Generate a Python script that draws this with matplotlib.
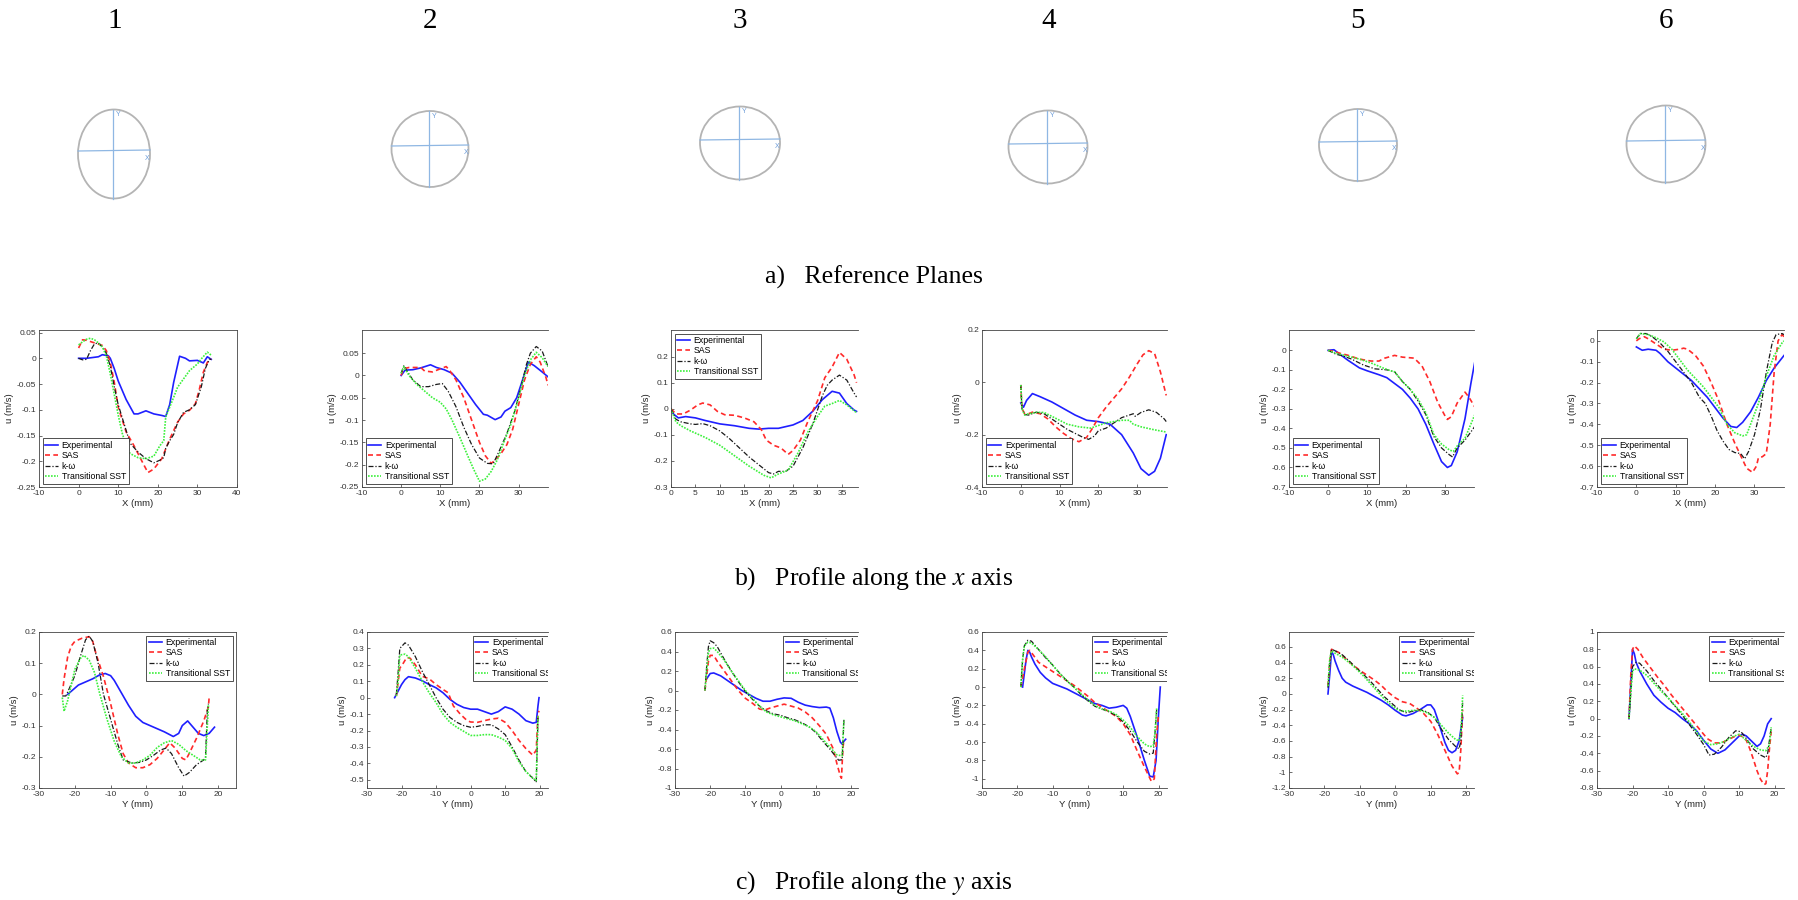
import matplotlib
matplotlib.use('Agg')
import matplotlib.pyplot as plt
from matplotlib.patches import Ellipse

plt.rcParams['axes.unicode_minus'] = False
plt.rcParams['mathtext.fontset'] = 'stix'
plt.rcParams['font.family'] = ['Liberation Sans', 'DejaVu Sans']

# ---------------- data: profiles along x (row b) ----------------
b1_exp_x = [0, 2, 5, 6, 7.5, 8, 9, 10, 12, 14, 15, 17, 19, 21, 22, 23, 24, 25.5, 27, 28, 30, 31.5, 32.5, 33.5]
b1_exp_u = [0, 0, 0.003, 0.007, 0.005, 0, -0.02, -0.044, -0.08, -0.108, -0.108, -0.102, -0.108, -0.111, -0.113, -0.09, -0.047, 0.004, 0, -0.005, -0.004, -0.009, 0.003, -0.002]
b1_sas_x = [0, 1, 2, 4, 6, 7, 8, 9, 10, 12, 14, 16, 17.5, 19, 21, 22, 23, 25, 26.5, 28, 29.5, 30.5, 31.5, 32.5, 33.5]
b1_sas_u = [0.02, 0.036, 0.035, 0.03, 0.025, 0.015, -0.008, -0.046, -0.095, -0.143, -0.17, -0.2, -0.222, -0.215, -0.195, -0.176, -0.157, -0.124, -0.108, -0.101, -0.088, -0.06, -0.027, -0.008, -0.001]
b1_kw_x = [0, 1, 2, 3, 4, 5, 6, 7, 8, 9, 10, 12, 13, 15, 17, 19, 20.5, 21.5, 22, 23, 24, 25, 26.5, 28, 29.5, 31, 32, 33, 33.5]
b1_kw_u = [0, -0.003, -0.002, 0.015, 0.028, 0.03, 0.022, 0.01, -0.015, -0.055, -0.09, -0.14, -0.165, -0.182, -0.195, -0.203, -0.198, -0.193, -0.175, -0.16, -0.148, -0.125, -0.105, -0.1, -0.09, -0.055, -0.02, -0.002, -0.002]
b1_sst_x = [0, 1, 2, 3, 4, 5, 6, 7, 8, 9, 10, 11, 12, 13, 15, 17, 19, 20.5, 21.5, 22, 23, 24, 25, 26.5, 28, 30, 31, 32.5, 33.5]
b1_sst_u = [0.026, 0.032, 0.037, 0.039, 0.036, 0.03, 0.022, 0.005, -0.03, -0.07, -0.11, -0.145, -0.17, -0.185, -0.193, -0.195, -0.19, -0.17, -0.16, -0.114, -0.095, -0.076, -0.056, -0.04, -0.024, -0.011, -0.001, 0.012, 0.006]

b2_exp_x = [0, 1, 3, 5, 7.5, 9, 11, 13, 15, 17, 19, 21, 22, 24, 25.5, 26.5, 28, 29.5, 31, 32.5, 34, 36, 37.5]
b2_exp_u = [0, 0.012, 0.013, 0.017, 0.024, 0.018, 0.013, 0.005, -0.015, -0.04, -0.065, -0.087, -0.089, -0.099, -0.093, -0.08, -0.072, -0.05, -0.01, 0.03, 0.022, 0.008, -0.003]
b2_sas_x = [0, 0.5, 2, 5, 6, 8, 10, 11.5, 12.5, 14, 16, 18, 20, 21.5, 23, 24, 25.5, 27, 28.5, 30, 31.5, 33, 34.5, 35.5, 37, 37.5]
b2_sas_u = [0, 0.015, 0.018, 0.018, 0.01, 0.008, 0.015, 0.02, 0.01, -0.01, -0.05, -0.1, -0.15, -0.18, -0.197, -0.19, -0.175, -0.155, -0.12, -0.065, -0.01, 0.025, 0.042, 0.03, -0.005, -0.022]
b2_kw_x = [0, 0.7, 1.5, 3, 5, 7, 9, 10.5, 12, 14, 16, 18, 20, 22, 23.5, 25, 27, 29, 30.5, 32, 33, 34.5, 36, 37.5]
b2_kw_u = [0.005, 0.022, 0.01, -0.01, -0.025, -0.025, -0.02, -0.018, -0.035, -0.07, -0.116, -0.155, -0.185, -0.197, -0.198, -0.17, -0.13, -0.08, -0.03, 0.025, 0.05, 0.065, 0.055, 0.02]
b2_sst_x = [0, 0.7, 2, 4, 6, 8, 10, 11.5, 13, 15, 17, 18.5, 20, 21.5, 23, 24.5, 26, 28, 30, 31.5, 33, 34.5, 36, 37.5]
b2_sst_u = [0.005, 0.02, 0, -0.02, -0.035, -0.05, -0.06, -0.075, -0.1, -0.139, -0.18, -0.21, -0.237, -0.232, -0.215, -0.19, -0.155, -0.11, -0.05, 0, 0.035, 0.052, 0.04, 0.02]

b3_exp_x = [0, 0.5, 1.5, 3, 5, 7, 10, 13, 16, 18, 20, 22, 25, 27, 29, 31, 33, 34.5, 36, 37.5, 38]
b3_exp_u = [0, -0.02, -0.035, -0.03, -0.035, -0.045, -0.058, -0.065, -0.075, -0.078, -0.075, -0.075, -0.062, -0.045, -0.01, 0.035, 0.067, 0.06, 0.02, -0.005, -0.01]
b3_sas_x = [0, 1, 2.5, 4, 5.5, 6.5, 8, 9.5, 11, 13, 15, 17, 18.5, 19.5, 21, 22.5, 24, 25, 26.5, 28, 30, 31.5, 33, 34.5, 36, 37.5, 38]
b3_sas_u = [0, -0.02, -0.02, -0.005, 0.015, 0.022, 0.015, -0.01, -0.023, -0.025, -0.035, -0.05, -0.08, -0.12, -0.14, -0.15, -0.175, -0.16, -0.12, -0.05, 0.03, 0.119, 0.16, 0.216, 0.19, 0.13, 0.1]
b3_kw_x = [0, 1, 2, 4, 5, 6.5, 8, 10, 12, 14, 16, 18, 20, 21, 22, 23.5, 25, 27, 29, 31, 32, 33, 34.5, 36, 37.5, 38]
b3_kw_u = [0, -0.04, -0.05, -0.058, -0.06, -0.057, -0.065, -0.085, -0.115, -0.15, -0.185, -0.215, -0.245, -0.25, -0.24, -0.24, -0.22, -0.15, -0.06, 0.05, 0.09, 0.11, 0.129, 0.11, 0.06, 0.045]
b3_sst_x = [0, 1, 2, 4, 7, 10, 13, 16, 19, 20.5, 22, 24, 26, 28, 30, 31.5, 33, 34.5, 36, 38]
b3_sst_u = [0, -0.05, -0.065, -0.085, -0.11, -0.14, -0.18, -0.22, -0.255, -0.265, -0.25, -0.235, -0.17, -0.09, -0.03, 0.01, 0.02, 0.032, 0.015, -0.015]

b4_exp_x = [0, 0.7, 1.5, 3, 5, 8, 11, 14, 17, 20, 23, 26, 29, 31, 33, 34.5, 36, 37.5]
b4_exp_u = [-0.079, -0.095, -0.069, -0.043, -0.055, -0.075, -0.1, -0.125, -0.145, -0.15, -0.16, -0.2, -0.27, -0.33, -0.355, -0.34, -0.29, -0.2]
b4_sas_x = [0, 0.3, 1, 2, 3, 5, 7, 9, 11, 13, 15, 17, 18.5, 20, 22, 24, 26, 28, 30, 31.5, 33, 34.5, 36, 37.5]
b4_sas_u = [-0.01, -0.1, -0.12, -0.12, -0.114, -0.12, -0.14, -0.17, -0.195, -0.215, -0.227, -0.21, -0.175, -0.135, -0.095, -0.06, -0.025, 0.02, 0.07, 0.105, 0.121, 0.11, 0.04, -0.05]
b4_kw_x = [0, 0.3, 1, 2, 4, 6, 8, 10, 12, 14, 16, 17.5, 19, 20, 22, 24, 26, 28, 29, 29.5, 31, 33, 35, 37, 37.5]
b4_kw_u = [-0.01, -0.1, -0.123, -0.125, -0.114, -0.12, -0.14, -0.16, -0.18, -0.195, -0.21, -0.218, -0.205, -0.185, -0.175, -0.155, -0.135, -0.125, -0.12, -0.13, -0.115, -0.105, -0.115, -0.14, -0.15]
b4_sst_x = [0, 0.3, 1, 2, 4, 6, 8, 10, 12, 15, 18, 20, 22, 24, 26, 28, 29, 31, 34, 37.5]
b4_sst_u = [-0.01, -0.1, -0.125, -0.12, -0.115, -0.115, -0.13, -0.145, -0.16, -0.17, -0.175, -0.165, -0.155, -0.15, -0.145, -0.145, -0.16, -0.17, -0.18, -0.19]

b5_exp_x = [0, 1.5, 3, 5, 8, 10, 13, 15, 17, 19, 21, 23, 25, 27, 29, 30.5, 31.5, 33, 35, 36.5, 37.5]
b5_exp_u = [0, 0.003, -0.02, -0.05, -0.09, -0.105, -0.125, -0.14, -0.17, -0.2, -0.245, -0.3, -0.38, -0.478, -0.57, -0.6, -0.59, -0.52, -0.35, -0.17, -0.06]
b5_sas_x = [0, 1.5, 3, 5, 8, 11, 13, 14.5, 17, 19, 22, 24, 26, 28, 30, 30.5, 31.5, 33, 35, 36, 37.5]
b5_sas_u = [0, -0.005, -0.015, -0.025, -0.045, -0.055, -0.055, -0.04, -0.026, -0.035, -0.04, -0.08, -0.16, -0.265, -0.34, -0.354, -0.34, -0.27, -0.214, -0.24, -0.29]
b5_kw_x = [0, 2, 4, 6, 9, 12, 15, 17, 19, 21, 23, 25, 27, 29, 31, 31.8, 33, 35, 37.5]
b5_kw_u = [0, -0.02, -0.03, -0.045, -0.075, -0.095, -0.1, -0.11, -0.16, -0.2, -0.26, -0.33, -0.44, -0.5, -0.535, -0.546, -0.5, -0.46, -0.39]
b5_sst_x = [0, 2, 5, 8, 11, 14, 16, 17, 19, 21, 23, 25, 27, 29, 31, 32, 33, 35, 37.5]
b5_sst_u = [0, -0.015, -0.03, -0.045, -0.065, -0.09, -0.105, -0.11, -0.16, -0.2, -0.25, -0.32, -0.43, -0.48, -0.51, -0.518, -0.49, -0.45, -0.33]

b6_exp_x = [0, 1, 1.5, 3, 5, 6, 8, 10, 12, 14, 16, 18, 20, 22, 24, 25.5, 27, 29, 31, 33, 35, 37.5]
b6_exp_u = [-0.029, -0.04, -0.045, -0.04, -0.045, -0.06, -0.1, -0.13, -0.16, -0.19, -0.23, -0.27, -0.32, -0.37, -0.41, -0.415, -0.39, -0.34, -0.27, -0.19, -0.13, -0.07]
b6_sas_x = [0, 0.7, 2, 3, 5, 7, 9, 11, 12, 13, 15, 17, 19, 21, 23, 25, 27, 28, 29.5, 30.5, 31, 32, 33, 34, 35, 36, 37, 37.5]
b6_sas_u = [0, 0.01, 0.02, 0.01, -0.015, -0.04, -0.045, -0.04, -0.035, -0.04, -0.07, -0.12, -0.2, -0.29, -0.4, -0.49, -0.57, -0.61, -0.63, -0.6, -0.56, -0.555, -0.54, -0.4, -0.15, 0, 0.03, 0.02]
b6_kw_x = [0, 1, 2.5, 4, 6, 8, 10, 12, 14, 16, 17.5, 19, 20.5, 22, 23.5, 25, 26.5, 27.5, 28.5, 30, 31.5, 33, 34.5, 35.5, 37, 37.5]
b6_kw_u = [0.01, 0.035, 0.035, 0.02, -0.01, -0.05, -0.1, -0.15, -0.2, -0.27, -0.3, -0.36, -0.43, -0.48, -0.52, -0.535, -0.54, -0.565, -0.53, -0.45, -0.33, -0.15, -0.01, 0.03, 0.035, 0.03]
b6_sst_x = [0, 1, 3, 5, 7, 9, 11, 13, 15, 17, 19, 21, 23, 25, 27, 28, 29, 31, 33, 35, 37, 37.5]
b6_sst_u = [0.01, 0.035, 0.03, 0.015, -0.005, -0.04, -0.09, -0.14, -0.18, -0.22, -0.27, -0.32, -0.4, -0.44, -0.455, -0.45, -0.4, -0.3, -0.17, -0.07, -0.01, 0]

# ---------------- data: profiles along y (row c) ----------------
c1_exp_x = [-22, -21, -19, -17, -15, -13, -11.5, -10, -9, -7, -5, -3, -1, 1, 3, 5, 7.5, 9, 10, 11.5, 13, 14.5, 16, 17.5, 19]
c1_exp_u = [0, 0.01, 0.03, 0.04, 0.05, 0.063, 0.067, 0.06, 0.045, 0.005, -0.035, -0.07, -0.09, -0.1, -0.11, -0.12, -0.135, -0.125, -0.1, -0.085, -0.105, -0.125, -0.132, -0.125, -0.105]
c1_sas_x = [-23.5, -23, -22, -21, -20, -18, -16, -15, -14, -12, -10, -8, -6.5, -5, -3, -1, 1, 3, 5, 6.5, 8, 10, 11, 12, 14, 16, 17.3, 17.5]
c1_sas_u = [0, 0.05, 0.12, 0.155, 0.17, 0.18, 0.185, 0.17, 0.127, 0.057, -0.03, -0.128, -0.19, -0.22, -0.235, -0.235, -0.225, -0.205, -0.177, -0.155, -0.172, -0.205, -0.21, -0.188, -0.14, -0.085, -0.04, -0.01]
c1_kw_x = [-23.5, -22.5, -21.5, -20, -18.5, -17, -16, -15, -13.5, -12, -10, -8, -6.5, -4, -2, 0, 2, 4, 5.5, 7, 9, 10.5, 12, 14, 16, 16.5, 17, 17.3]
c1_kw_u = [-0.005, -0.005, 0.02, 0.06, 0.12, 0.175, 0.187, 0.17, 0.1, 0, -0.08, -0.16, -0.21, -0.22, -0.218, -0.21, -0.195, -0.178, -0.172, -0.19, -0.235, -0.262, -0.25, -0.225, -0.21, -0.2, -0.05, -0.03]
c1_sst_x = [-23.5, -23, -22, -21, -20, -18.5, -17.5, -16, -14.5, -13, -11, -9, -7, -5, -3, -1, 1, 3, 5, 7, 9, 11, 13, 15, 16.5, 17, 17.3]
c1_sst_u = [-0.01, -0.054, -0.02, 0.03, 0.08, 0.115, 0.125, 0.11, 0.07, 0, -0.08, -0.15, -0.2, -0.22, -0.22, -0.21, -0.195, -0.17, -0.155, -0.148, -0.16, -0.18, -0.195, -0.21, -0.21, -0.1, -0.035]

c2_exp_x = [-22, -21, -20, -19, -18, -16, -14, -12, -10, -8, -6, -4, -2, 0, 2, 4, 6, 8, 10, 12, 14, 16, 18, 19, 19.5, 19.8]
c2_exp_u = [0, 0.04, 0.08, 0.11, 0.128, 0.12, 0.103, 0.08, 0.06, 0.03, -0.01, -0.04, -0.06, -0.07, -0.07, -0.085, -0.1, -0.085, -0.056, -0.07, -0.1, -0.14, -0.155, -0.15, -0.05, 0]
c2_sas_x = [-21.5, -20.5, -19.5, -18.5, -17.5, -16, -14, -12, -10, -8, -6.5, -5, -3, -1, 0, 2, 4, 6, 8, 10, 12, 14, 16, 18, 19, 19.5, 19.8]
c2_sas_u = [0.01, 0.18, 0.21, 0.245, 0.24, 0.2, 0.13, 0.115, 0.08, 0.05, 0.03, -0.05, -0.1, -0.14, -0.148, -0.15, -0.14, -0.13, -0.125, -0.15, -0.2, -0.26, -0.31, -0.35, -0.32, -0.1, -0.08]
c2_kw_x = [-21.5, -21, -20.5, -19, -18, -16, -14, -12, -10, -8, -6, -4, -2, 0, 2, 4, 6, 8, 10, 12, 14, 16, 18, 19, 19.5]
c2_kw_u = [0.02, 0.15, 0.3, 0.334, 0.32, 0.25, 0.16, 0.08, 0, -0.07, -0.12, -0.15, -0.17, -0.18, -0.175, -0.165, -0.165, -0.19, -0.225, -0.3, -0.38, -0.45, -0.49, -0.515, -0.12]
c2_sst_x = [-21.5, -21, -20.5, -19, -18, -16, -14, -12, -10, -8, -6, -4, -2, 0, 2, 4, 6, 8, 10, 12, 14, 16, 18, 19, 19.5]
c2_sst_u = [0.01, 0.1, 0.26, 0.265, 0.25, 0.18, 0.1, 0.03, -0.03, -0.1, -0.15, -0.18, -0.205, -0.23, -0.23, -0.225, -0.225, -0.24, -0.26, -0.31, -0.39, -0.45, -0.49, -0.505, -0.11]

c3_exp_x = [-21, -20, -19, -17, -15, -13, -11, -9, -7, -5, -3, -1, 1, 3, 5, 7, 9, 11, 13, 14, 15, 16, 17, 17.5, 18, 18.5]
c3_exp_u = [0.12, 0.174, 0.18, 0.15, 0.1, 0.05, 0, -0.04, -0.08, -0.11, -0.11, -0.09, -0.076, -0.08, -0.12, -0.15, -0.165, -0.175, -0.17, -0.18, -0.28, -0.42, -0.53, -0.55, -0.52, -0.5]
c3_sas_x = [-21.5, -21, -20.5, -20, -19, -18, -16, -14, -12, -10, -8, -6, -4.5, -3, -1, 1, 3, 5, 7, 9, 11, 13, 15, 16, 17, 17.3, 17.7, 18]
c3_sas_u = [0, 0.15, 0.3, 0.36, 0.36, 0.3, 0.2, 0.1, 0, -0.08, -0.13, -0.19, -0.2, -0.18, -0.16, -0.14, -0.16, -0.18, -0.22, -0.28, -0.36, -0.45, -0.6, -0.75, -0.88, -0.9, -0.6, -0.5]
c3_kw_x = [-21.5, -21, -20.5, -20, -19, -18, -16, -14, -12, -10, -8, -6, -4, -2, 0, 2, 4, 6, 8, 10, 12, 14, 15.5, 16.5, 17.5, 18]
c3_kw_u = [0, 0.25, 0.45, 0.51, 0.49, 0.45, 0.32, 0.2, 0.09, -0.01, -0.09, -0.16, -0.21, -0.24, -0.254, -0.28, -0.3, -0.33, -0.37, -0.43, -0.52, -0.6, -0.67, -0.715, -0.71, -0.3]
c3_sst_x = [-21.5, -21, -20.5, -20, -19, -18, -16, -14, -12, -10, -8, -6, -4, -2, 0, 2, 4, 6, 8, 10, 12, 14, 16, 17.5, 18]
c3_sst_u = [0, 0.2, 0.39, 0.43, 0.435, 0.4, 0.31, 0.2, 0.1, 0, -0.08, -0.16, -0.22, -0.25, -0.27, -0.29, -0.31, -0.34, -0.37, -0.42, -0.5, -0.58, -0.66, -0.67, -0.3]

c4_exp_x = [-18.5, -18, -17.5, -17, -16.5, -16, -15, -13.5, -12, -10, -8, -6, -4, -2, 0, 2, 4, 6, 8, 10, 11, 12, 14, 16, 17.5, 18.5, 19.3, 20, 20.5]
c4_exp_u = [0, 0.15, 0.3, 0.4, 0.38, 0.33, 0.25, 0.16, 0.1, 0.04, 0.01, -0.02, -0.06, -0.1, -0.14, -0.18, -0.2, -0.23, -0.22, -0.2, -0.23, -0.32, -0.55, -0.8, -0.97, -0.98, -0.8, -0.3, 0]
c4_sas_x = [-19, -18, -17, -16.5, -15.5, -14, -12, -10, -8, -6, -4, -2, 0, 2, 4, 6, 8, 10, 12, 14, 16, 18, 18.8, 19.5, 20]
c4_sas_u = [0, 0.2, 0.38, 0.4, 0.35, 0.27, 0.22, 0.17, 0.12, 0.07, 0.02, -0.04, -0.1, -0.17, -0.22, -0.27, -0.32, -0.4, -0.52, -0.7, -0.87, -1.03, -1.0, -0.5, -0.3]
c4_kw_x = [-19, -18.5, -18, -17, -16, -14, -12, -10, -8, -6, -4, -2, 0, 2, 4, 6, 8, 10, 12, 14, 16, 17.5, 18.5, 19, 19.5]
c4_kw_u = [0, 0.3, 0.45, 0.51, 0.5, 0.41, 0.32, 0.24, 0.15, 0.07, 0, -0.08, -0.15, -0.21, -0.24, -0.27, -0.31, -0.38, -0.48, -0.6, -0.7, -0.73, -0.72, -0.5, -0.23]
c4_sst_x = [-19, -18.5, -18, -17, -16, -14, -12, -10, -8, -6, -4, -2, 0, 2, 4, 6, 8, 10, 12, 14, 16, 17.5, 18.5, 19, 19.5]
c4_sst_u = [0, 0.3, 0.45, 0.49, 0.48, 0.41, 0.33, 0.24, 0.15, 0.07, 0, -0.07, -0.14, -0.2, -0.24, -0.26, -0.3, -0.36, -0.44, -0.54, -0.62, -0.65, -0.64, -0.5, -0.22]

c5_exp_x = [-19, -18.5, -18, -17.5, -17, -16, -15, -14, -12, -10, -8, -6, -4, -2, 0, 2, 3, 5, 7, 9, 10, 11, 12, 13, 14, 15, 16, 17, 18, 18.5, 19]
c5_exp_u = [0, 0.25, 0.547, 0.5, 0.42, 0.3, 0.2, 0.15, 0.1, 0.06, 0.02, -0.03, -0.08, -0.14, -0.21, -0.27, -0.28, -0.25, -0.2, -0.14, -0.14, -0.2, -0.33, -0.48, -0.62, -0.72, -0.75, -0.72, -0.6, -0.45, -0.3]
c5_sas_x = [-19, -18.5, -18, -17, -16, -14, -12, -10, -8, -6, -4, -2, 0, 2, 4, 6, 8, 10, 12, 14, 16, 17.5, 18, 18.5, 19]
c5_sas_u = [0.1, 0.4, 0.57, 0.55, 0.53, 0.45, 0.37, 0.3, 0.24, 0.18, 0.11, 0.02, -0.05, -0.1, -0.12, -0.18, -0.25, -0.35, -0.52, -0.72, -0.92, -1.02, -1.0, -0.7, -0.2]
c5_kw_x = [-19, -18.5, -18, -17, -15, -13, -11, -9, -7, -5, -3, -1, 1, 3, 5, 7, 9, 11, 13, 15, 17, 18, 18.5, 19]
c5_kw_u = [0.08, 0.4, 0.57, 0.55, 0.5, 0.42, 0.33, 0.25, 0.16, 0.06, -0.04, -0.12, -0.2, -0.24, -0.22, -0.2, -0.23, -0.3, -0.45, -0.58, -0.67, -0.7, -0.6, -0.1]
c5_sst_x = [-19, -18.5, -18, -17, -15, -13, -11, -9, -7, -5, -3, -1, 1, 3, 5, 7, 9, 11, 13, 15, 17, 18, 18.5, 19]
c5_sst_u = [0.1, 0.45, 0.55, 0.52, 0.47, 0.4, 0.32, 0.23, 0.13, 0.03, -0.07, -0.15, -0.21, -0.22, -0.21, -0.21, -0.24, -0.3, -0.4, -0.5, -0.58, -0.6, -0.5, -0.02]

c6_exp_x = [-21, -20.5, -20, -19.5, -19, -18, -16, -14, -12, -10, -8, -6, -4, -2, 0, 2, 4, 6, 8, 10, 11, 12, 14, 15, 16, 17, 18, 19]
c6_exp_u = [0, 0.4, 0.8, 0.75, 0.65, 0.55, 0.4, 0.27, 0.19, 0.12, 0.07, 0, -0.06, -0.14, -0.25, -0.35, -0.4, -0.36, -0.28, -0.2, -0.18, -0.2, -0.28, -0.32, -0.29, -0.2, -0.06, 0]
c6_sas_x = [-21, -20.5, -20, -19.5, -18.5, -17, -15, -13, -11, -9, -7, -5, -3, -1, 1, 3, 5, 7, 9, 10, 11, 12, 13, 14, 15, 16, 17, 17.5, 18, 18.5, 19]
c6_sas_u = [0, 0.5, 0.8, 0.84, 0.8, 0.7, 0.59, 0.48, 0.38, 0.27, 0.17, 0.07, -0.03, -0.13, -0.23, -0.28, -0.28, -0.24, -0.2, -0.19, -0.21, -0.25, -0.35, -0.47, -0.6, -0.7, -0.76, -0.75, -0.6, -0.35, -0.15]
c6_kw_x = [-21, -20.5, -20, -19, -18, -16, -14, -12, -10, -8, -6, -4, -2, 0, 1.5, 3, 5, 7, 9, 10.5, 12, 14, 16, 17.5, 18, 18.5, 19]
c6_kw_u = [0, 0.3, 0.6, 0.65, 0.64, 0.55, 0.44, 0.34, 0.24, 0.14, 0.04, -0.07, -0.18, -0.3, -0.42, -0.41, -0.33, -0.22, -0.14, -0.15, -0.23, -0.35, -0.42, -0.45, -0.4, -0.25, -0.1]
c6_sst_x = [-21, -20.5, -20, -19.5, -18, -16, -14, -12, -10, -8, -6, -4, -2, 0, 2, 4, 6, 8, 10, 12, 14, 16, 17.5, 18.5, 19]
c6_sst_u = [0, 0.3, 0.55, 0.575, 0.56, 0.5, 0.41, 0.32, 0.24, 0.15, 0.06, -0.04, -0.15, -0.26, -0.3, -0.29, -0.26, -0.21, -0.18, -0.25, -0.32, -0.36, -0.37, -0.3, -0.1]

series_labels = ['Experimental', 'SAS', 'k-\u03c9', 'Transitional SST']
plane_labels = ['1', '2', '3', '4', '5', '6']
captions = ['a)   Reference Planes', 'b)   Profile along the $x$ axis', 'c)   Profile along the $y$ axis']

# axis limits / ticks per panel
b_xlim = [(-10, 40), (-10, 37.5), (0, 38.3), (-10, 37.7), (-10, 37.3), (-10, 37.5)]
b_ylim = [(-0.25, 0.055), (-0.25, 0.102), (-0.3, 0.302), (-0.4, 0.2), (-0.7, 0.104), (-0.7, 0.052)]
b_xticks = [[-10, 0, 10, 20, 30, 40], [-10, 0, 10, 20, 30], [0, 5, 10, 15, 20, 25, 30, 35],
            [-10, 0, 10, 20, 30], [-10, 0, 10, 20, 30], [-10, 0, 10, 20, 30]]
b_yticks = [[-0.25, -0.2, -0.15, -0.1, -0.05, 0, 0.05], [-0.25, -0.2, -0.15, -0.1, -0.05, 0, 0.05],
            [-0.3, -0.2, -0.1, 0, 0.1, 0.2], [-0.4, -0.2, 0, 0.2],
            [-0.7, -0.6, -0.5, -0.4, -0.3, -0.2, -0.1, 0], [-0.7, -0.6, -0.5, -0.4, -0.3, -0.2, -0.1, 0]]
c_xlim = [(-30, 25), (-30, 22.4), (-30, 22), (-30, 22.4), (-30, 22.2), (-30, 22.6)]
c_ylim = [(-0.3, 0.2), (-0.55, 0.4), (-1, 0.6), (-1.1, 0.6), (-1.2, 0.79), (-0.8, 1)]
c_xticks = [[-30, -20, -10, 0, 10, 20]] * 6
c_yticks = [[-0.3, -0.2, -0.1, 0, 0.1, 0.2], [-0.5, -0.4, -0.3, -0.2, -0.1, 0, 0.1, 0.2, 0.3, 0.4],
            [-1, -0.8, -0.6, -0.4, -0.2, 0, 0.2, 0.4, 0.6], [-1, -0.8, -0.6, -0.4, -0.2, 0, 0.2, 0.4, 0.6],
            [-1.2, -1, -0.8, -0.6, -0.4, -0.2, 0, 0.2, 0.4, 0.6], [-0.8, -0.6, -0.4, -0.2, 0, 0.2, 0.4, 0.6, 0.8, 1]]

B = [
    [(b1_exp_x, b1_exp_u), (b1_sas_x, b1_sas_u), (b1_kw_x, b1_kw_u), (b1_sst_x, b1_sst_u)],
    [(b2_exp_x, b2_exp_u), (b2_sas_x, b2_sas_u), (b2_kw_x, b2_kw_u), (b2_sst_x, b2_sst_u)],
    [(b3_exp_x, b3_exp_u), (b3_sas_x, b3_sas_u), (b3_kw_x, b3_kw_u), (b3_sst_x, b3_sst_u)],
    [(b4_exp_x, b4_exp_u), (b4_sas_x, b4_sas_u), (b4_kw_x, b4_kw_u), (b4_sst_x, b4_sst_u)],
    [(b5_exp_x, b5_exp_u), (b5_sas_x, b5_sas_u), (b5_kw_x, b5_kw_u), (b5_sst_x, b5_sst_u)],
    [(b6_exp_x, b6_exp_u), (b6_sas_x, b6_sas_u), (b6_kw_x, b6_kw_u), (b6_sst_x, b6_sst_u)],
]
C = [
    [(c1_exp_x, c1_exp_u), (c1_sas_x, c1_sas_u), (c1_kw_x, c1_kw_u), (c1_sst_x, c1_sst_u)],
    [(c2_exp_x, c2_exp_u), (c2_sas_x, c2_sas_u), (c2_kw_x, c2_kw_u), (c2_sst_x, c2_sst_u)],
    [(c3_exp_x, c3_exp_u), (c3_sas_x, c3_sas_u), (c3_kw_x, c3_kw_u), (c3_sst_x, c3_sst_u)],
    [(c4_exp_x, c4_exp_u), (c4_sas_x, c4_sas_u), (c4_kw_x, c4_kw_u), (c4_sst_x, c4_sst_u)],
    [(c5_exp_x, c5_exp_u), (c5_sas_x, c5_sas_u), (c5_kw_x, c5_kw_u), (c5_sst_x, c5_sst_u)],
    [(c6_exp_x, c6_exp_u), (c6_sas_x, c6_sas_u), (c6_kw_x, c6_kw_u), (c6_sst_x, c6_sst_u)],
]

# ---------------- styles / layout ----------------
STY = [dict(color='#1f1fff', ls='-', lw=1.2),
       dict(color='#ff2a2a', ls=(0, (3.0, 2.0)), lw=1.2),
       dict(color='#1a1a1a', ls=(0, (4, 1.5, 1, 1.5)), lw=0.9),
       dict(color='#3cf03c', ls=(0, (1, 0.8)), lw=1.2)]

W, H = 1798, 900
fig = plt.figure(figsize=(W / 100, H / 100), dpi=100)


def box(l, r, t, b):
    return [l / W, 1 - b / H, (r - l) / W, (b - t) / H]


# overlay for sketches and captions
ov = fig.add_axes([0, 0, 1, 1])
ov.set_xlim(0, W)
ov.set_ylim(H, 0)
ov.axis('off')

plane_cx = [114, 430, 740, 1048, 1358, 1666]
plane_cy = [154, 149, 143, 147, 145, 144]
plane_w = [72, 77, 80, 79, 78, 79]
plane_h = [89, 76, 73, 73, 72, 77]
num_x = [115, 430, 740, 1049, 1357, 1666]

for i in range(6):
    cx, cy, w, h = plane_cx[i], plane_cy[i], plane_w[i], plane_h[i]
    ov.add_patch(Ellipse((cx, cy), w, h, fill=False, ec='#b4b4b4', lw=1.3))
    ov.plot([cx - 1, cx - 1], [cy - h / 2, cy + h / 2], color='#8fb7e3', lw=0.9)
    ov.plot([cx - w / 2, cx + w / 2], [cy - 3, cy - 4], color='#8fb7e3', lw=0.9)
    ov.text(cx + 2, cy - h / 2 + 5, 'Y', color='#6a9bd8', fontsize=5, ha='left', va='center')
    ov.text(cx + w / 2 - 5, cy + 4, 'X', color='#6a9bd8', fontsize=5, ha='left', va='center')
    ov.text(num_x[i], 21, plane_labels[i], fontsize=21, family='Liberation Serif', ha='center', va='center')

cap_y = [277, 579, 883]
for cy, txt in zip(cap_y, captions):
    ov.text(874, cy, txt, fontsize=18.5, family='Liberation Serif', ha='center', va='center')


def draw(rect, data, xlim, ylim, xt, yt, xlabel, leg_kw, right_spine, clip_leg):
    ax = fig.add_axes(rect)
    for (x, u), st, lab in zip(data, STY, series_labels):
        ax.plot(x, u, label=lab, **st)
    ax.set_xlim(*xlim)
    ax.set_ylim(*ylim)
    ax.set_xticks(xt)
    ax.set_yticks(yt)
    ax.set_xticklabels(['%g' % v for v in xt])
    ax.set_yticklabels(['%g' % v for v in yt])
    ax.tick_params(direction='in', length=2, width=0.5, labelsize=6, colors='#333333', pad=2)
    for s in ax.spines.values():
        s.set_linewidth(0.6)
        s.set_color('#444444')
    ax.spines['right'].set_visible(right_spine)
    ax.set_xlabel(xlabel, fontsize=6.8, labelpad=1.5, color='#222222')
    ax.set_ylabel('u (m/s)', fontsize=6.8, labelpad=2, color='#222222')
    leg = ax.legend(fontsize=6.3, handlelength=1.5, handletextpad=0.4, borderpad=0.3,
                    labelspacing=0.15, fancybox=False, framealpha=1, borderaxespad=0.4, **leg_kw)
    leg.get_frame().set_linewidth(0.6)
    leg.get_frame().set_edgecolor('#333333')
    if clip_leg:
        for a in leg.findobj():
            a.set_clip_box(ax.bbox)
            a.set_clip_on(True)
    return ax


b_l = [39, 362, 671, 982, 1289, 1597]
b_r = [237, 548, 858, 1167, 1474, 1784]
c_l = [39, 367, 675, 982, 1289, 1597]
c_r = [236, 548, 858, 1167, 1474, 1784]

for i in range(6):
    legb = dict(loc='upper left') if i == 2 else dict(loc='lower left')
    draw(box(b_l[i], b_r[i], 330, 487), B[i], b_xlim[i], b_ylim[i], b_xticks[i], b_yticks[i],
         'X (mm)', legb, i == 0, False)
    if i == 0:
        legc = dict(loc='upper right')
    else:
        legc = dict(loc='upper right', bbox_to_anchor=(1.08, 1.0))
    draw(box(c_l[i], c_r[i], 632, 788), C[i], c_xlim[i], c_ylim[i], c_xticks[i], c_yticks[i],
         'Y (mm)', legc, i == 0, i != 0)

fig.savefig('out.png', dpi=100)
